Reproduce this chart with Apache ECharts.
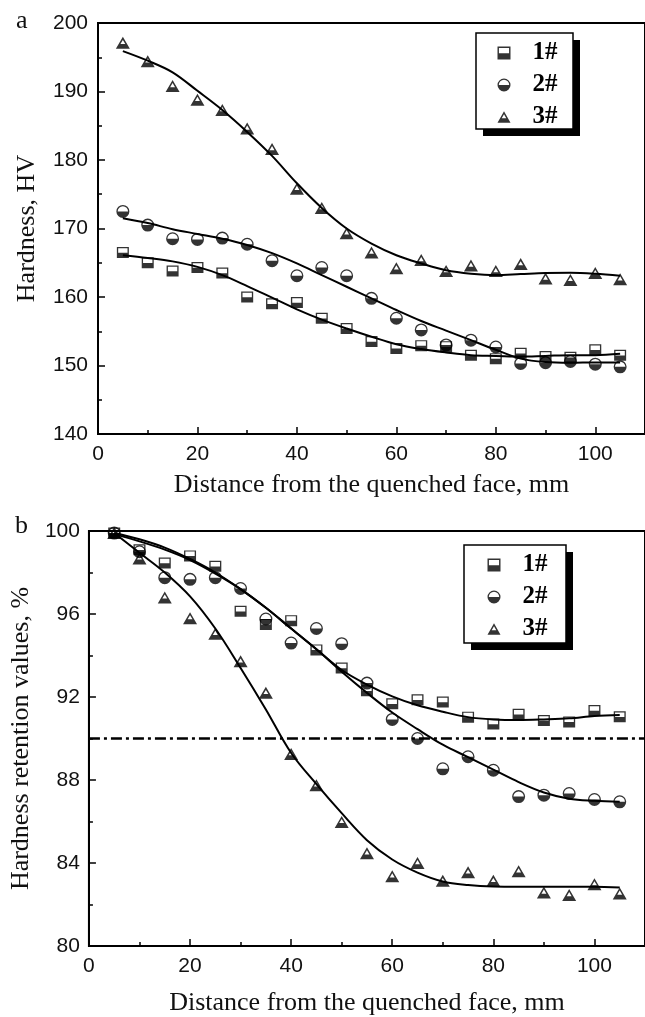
<!DOCTYPE html>
<html>
<head>
<meta charset="utf-8">
<script src="https://cdn.jsdelivr.net/npm/echarts@6.0.0/dist/echarts.min.js"></script>
<style>
  html, body { margin: 0; padding: 0; background: #fff; }
  #chart { width: 645px; height: 1017px; }
</style>
</head>
<body>
<div id="chart"></div>
<script>
  // distance from the quenched face, mm
  const distance = [5, 10, 15, 20, 25, 30, 35, 40, 45, 50, 55, 60, 65, 70, 75, 80, 85, 90, 95, 100, 105]
  const sampleNames = ['1#', '2#', '3#']

  // (a) hardness, HV
  const hardness1 = [166.5, 165.0, 163.8, 164.3, 163.5, 160.0, 159.0, 159.2, 156.9, 155.4, 153.5, 152.5, 152.9, 152.75, 151.5, 151.0, 151.8, 151.3, 151.2, 152.3, 151.5]
  const hardness2 = [172.5, 170.5, 168.5, 168.4, 168.6, 167.7, 165.3, 163.1, 164.3, 163.1, 159.8, 156.9, 155.2, 153.0, 153.7, 152.7, 150.3, 150.4, 150.6, 150.2, 149.8]
  const hardness3 = [197.1, 194.4, 190.8, 188.8, 187.3, 184.6, 181.6, 175.8, 173.0, 169.3, 166.5, 164.2, 165.4, 163.8, 164.6, 163.8, 164.8, 162.7, 162.5, 163.5, 162.6]
  // fitted curves
  const hardnessFit1 = [166.1, 165.7, 165.2, 164.4, 163.2, 161.6, 159.9, 158.2, 156.7, 155.4, 154.2, 153.1, 152.4, 151.9, 151.5, 151.4, 151.3, 151.4, 151.5, 151.5, 151.7]
  const hardnessFit2 = [171.5, 170.8, 169.9, 169.2, 168.5, 167.6, 166.4, 164.9, 163.2, 161.5, 159.8, 158.1, 156.5, 155.1, 153.7, 152.3, 151.0, 150.5, 150.4, 150.45, 150.45]
  const hardnessFit3 = [195.9, 194.5, 192.8, 190.1, 187.3, 184.1, 180.6, 176.6, 173.0, 170.0, 167.8, 166.1, 164.9, 163.9, 163.4, 163.2, 163.35, 163.5, 163.55, 163.4, 163.1]

  // (b) hardness retention values, %
  const retention1 = [99.9, 99.1, 98.46, 98.8, 98.3, 96.13, 95.5, 95.68, 94.27, 93.4, 92.3, 91.67, 91.87, 91.76, 91.03, 90.7, 91.17, 90.87, 90.8, 91.35, 91.05]
  const retention2 = [99.9, 99.0, 97.75, 97.67, 97.75, 97.23, 95.76, 94.6, 95.3, 94.57, 92.67, 90.92, 90.0, 88.54, 89.12, 88.47, 87.2, 87.27, 87.35, 87.06, 86.95]
  const retention3 = [99.9, 98.68, 96.8, 95.8, 95.05, 93.72, 92.2, 89.25, 87.75, 85.98, 84.47, 83.36, 84.0, 83.14, 83.55, 83.14, 83.6, 82.58, 82.46, 82.98, 82.53]
  const retentionFit1 = [99.9, 99.6, 99.2, 98.65, 98.0, 97.2, 96.3, 95.3, 94.3, 93.3, 92.6, 92.03, 91.6, 91.29, 91.03, 90.92, 90.89, 90.92, 90.97, 91.08, 91.13]
  const retentionFit2 = [99.85, 99.5, 99.1, 98.6, 97.95, 97.2, 96.3, 95.3, 94.3, 93.22, 92.2, 91.25, 90.45, 89.7, 89.1, 88.5, 87.9, 87.4, 87.1, 87.0, 86.95]
  const retentionFit3 = [99.9, 98.95, 98.0, 96.85, 95.3, 93.4, 91.4, 89.3, 87.8, 86.4, 85.1, 84.17, 83.54, 83.11, 82.94, 82.87, 82.86, 82.86, 82.86, 82.85, 82.82]
  const retentionLimit = 90

  // tick labels
  const xTicks = [0, 20, 40, 60, 80, 100]
  const hardnessTicks = [140, 150, 160, 170, 180, 190, 200]
  const retentionTicks = [80, 84, 88, 92, 96, 100]

  // half filled markers (outline with the lower part solid)
  const squareHalf = 'path://M0,0L100,0L100,100L0,100Z M11,11L11,52L89,52L89,11Z'
  const circleHalf = 'path://M0,50A50,50 0 1,1 100,50A50,50 0 1,1 0,50Z M10,50L90,50A40,40 0 0,0 10,50Z'
  const triangleHalf = 'path://M50,0L100,90L0,90Z M50,23L32.5,54L67.5,54Z'
  const symbols = [squareHalf, circleHalf, triangleHalf]
  const symbolSizes = [[12, 11], 13, [14, 12]]

  const labelFont = { fontFamily: '"Liberation Sans", Arial, sans-serif', fontSize: 21, color: '#111' }
  const titleFont = { fontFamily: '"Liberation Serif", "Times New Roman", serif', fontSize: 26, color: '#111' }
  const black = '#000'

  const pts = ys => distance.map((x, i) => [x, ys[i]])

  const chart = echarts.init(document.getElementById('chart'), null, { renderer: 'canvas' })

  const xMain = (gridIndex, gap) => ({
    gridIndex,
    type: 'value',
    min: xTicks[0],
    max: 110,
    interval: xTicks[1] - xTicks[0],
    name: 'Distance from the quenched face, mm',
    nameLocation: 'middle',
    nameGap: gap,
    nameTextStyle: titleFont,
    axisLine: { onZero: false, lineStyle: { color: black, width: 2 } },
    axisTick: { inside: true, length: 7, lineStyle: { color: black, width: 1.5 } },
    axisLabel: { ...labelFont, margin: 10, showMaxLabel: false },
    splitLine: { show: false }
  })
  // second axis only for the short ticks at 10, 30, 50 ...
  const xMinor = gridIndex => ({
    gridIndex,
    type: 'value',
    position: 'bottom',
    min: 0,
    max: 110,
    interval: 10,
    axisLine: { show: false, onZero: false },
    axisTick: { inside: true, length: 4, lineStyle: { color: black, width: 1.5 } },
    axisLabel: { show: false },
    splitLine: { show: false }
  })
  const yAxis = (gridIndex, ticks, name, gap, margin) => ({
    gridIndex,
    type: 'value',
    min: ticks[0],
    max: ticks[ticks.length - 1],
    interval: ticks[1] - ticks[0],
    name,
    nameLocation: 'middle',
    nameGap: gap,
    nameTextStyle: titleFont,
    axisLine: { onZero: false, lineStyle: { color: black, width: 2 } },
    axisTick: { inside: true, length: 7, lineStyle: { color: black, width: 1.5 } },
    minorTick: { show: true, splitNumber: 2, length: 4, lineStyle: { color: black, width: 1.5 } },
    axisLabel: { ...labelFont, margin },
    splitLine: { show: false }
  })

  const scatter = (name, ys, k, xi, yi) => ({
    name,
    type: 'scatter',
    xAxisIndex: xi,
    yAxisIndex: yi,
    data: pts(ys),
    symbol: symbols[k],
    symbolSize: symbolSizes[k],
    itemStyle: { color: black, borderWidth: 0 },
    z: 4
  })
  const fit = (name, ys, xi, yi) => ({
    name,
    type: 'line',
    xAxisIndex: xi,
    yAxisIndex: yi,
    data: pts(ys),
    smooth: 0.35,
    showSymbol: false,
    lineStyle: { color: black, width: 2 },
    z: 3
  })

  // legend items only; the framed box with its drop shadow is drawn as graphics
  const legend = (left, top) => ({
    data: sampleNames,
    orient: 'vertical',
    left,
    top,
    padding: 0,
    itemWidth: 13,
    itemHeight: 13,
    itemGap: 7,
    symbolKeepAspect: true,
    selectedMode: false,
    backgroundColor: 'transparent',
    borderWidth: 0,
    textStyle: {
      fontFamily: '"Liberation Serif", "Times New Roman", serif',
      fontWeight: 'bold',
      fontSize: 25,
      lineHeight: 25,
      padding: [0, 0, 0, 17],
      color: black
    }
  })
  const legendBox = (x, y, w, h) => [
    { type: 'rect', z: 1, shape: { x: x + 7, y: y + 7, width: w, height: h }, style: { fill: black } },
    { type: 'rect', z: 2, shape: { x, y, width: w, height: h }, style: { fill: '#fff', stroke: black, lineWidth: 1.5 } }
  ]

  const limitSeries = fit('fit b 1#', retentionFit1, 2, 1)
  limitSeries.markLine = {
    silent: true,
    symbol: 'none',
    label: { show: false },
    lineStyle: { color: black, width: 2.5, type: [11, 4, 3, 4] },
    data: [{ yAxis: retentionLimit }]
  }

  const option = {
    animation: false,
    backgroundColor: '#fff',
    grid: [
      { left: 98, top: 23, width: 555.5, height: 411, show: true, borderColor: black, borderWidth: 2 },
      { left: 87, top: 531, width: 567, height: 420, show: true, borderColor: black, borderWidth: 2 }
    ],
    xAxis: [xMain(0, 38), xMinor(0), xMain(1, 44), xMinor(1)],
    yAxis: [
      yAxis(0, hardnessTicks, 'Hardness, HV', 58, 10),
      yAxis(1, retentionTicks, 'Hardness retention values, %', 45, 9)
    ],
    legend: [legend(497.5, 40.5), legend(487.5, 552.5)],
    graphic: [
      ...legendBox(476, 33, 97, 96),
      ...legendBox(464, 545, 102, 98),
      { type: 'text', left: 16, top: 8, style: { text: 'a', font: '26px "Liberation Serif", serif', fill: '#111' } },
      { type: 'text', left: 15, top: 513, style: { text: 'b', font: '26px "Liberation Serif", serif', fill: '#111' } }
    ],
    series: [
      fit('fit a 1#', hardnessFit1, 0, 0),
      fit('fit a 2#', hardnessFit2, 0, 0),
      fit('fit a 3#', hardnessFit3, 0, 0),
      scatter('1#', hardness1, 0, 0, 0),
      scatter('2#', hardness2, 1, 0, 0),
      scatter('3#', hardness3, 2, 0, 0),
      limitSeries,
      fit('fit b 2#', retentionFit2, 2, 1),
      fit('fit b 3#', retentionFit3, 2, 1),
      scatter('1#', retention1, 0, 2, 1),
      scatter('2#', retention2, 1, 2, 1),
      scatter('3#', retention3, 2, 2, 1)
    ]
  }

  chart.setOption(option)
  window.addEventListener('resize', () => chart.resize())
</script>
</body>
</html>
